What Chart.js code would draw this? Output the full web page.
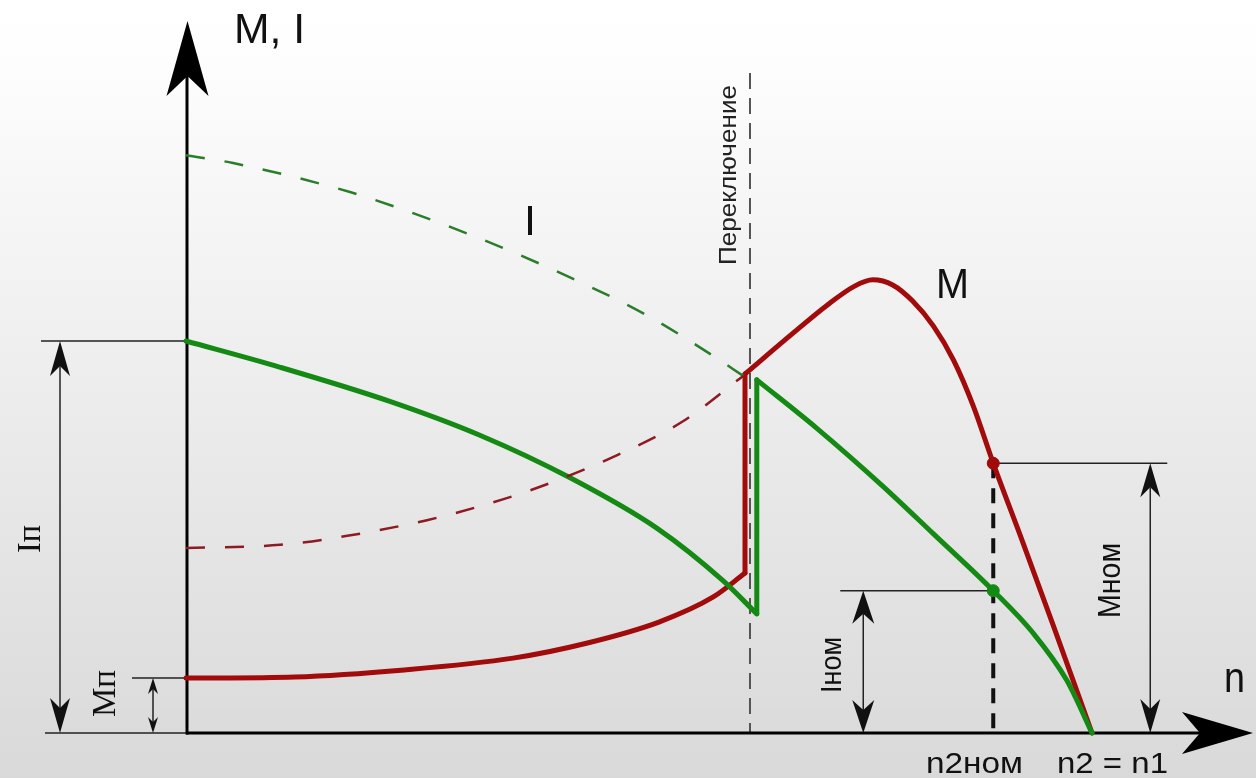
<!DOCTYPE html>
<html lang="ru">
<head>
<meta charset="utf-8">
<title>Пуск двухскоростного двигателя</title>
<script src="https://cdn.jsdelivr.net/npm/chart.js@4.4.1/dist/chart.umd.min.js"></script>
<style>
  html, body { margin: 0; padding: 0; }
  #wrap { width: 1256px; height: 778px; position: relative; }
</style>
</head>
<body>
<div id="wrap"><canvas id="chart"></canvas></div>
<script>
// n in % of n1, M and I in % of the starting current Iп
const iStartN = [0, 10.4, 22.5, 32.5, 42.4, 52.0, 59.3, 63.0];
const iStartVal = [100, 93.3, 84.6, 75.9, 65.1, 52.2, 38.8, 30.4];
const iRunN = [63.0, 69.6, 76.9, 82.5, 89.1, 93.5, 97.2, 100];
const iRunVal = [90.1, 77.8, 63.0, 50.8, 36.3, 25.5, 13.5, 0];

const mStartN = [0, 12.0, 24.1, 36.1, 44.2, 52.2, 58.2, 61.7];
const mStartVal = [14.0, 14.3, 16.1, 19.1, 22.9, 28.3, 34.7, 40.8];
const mRunN = [61.7, 67.0, 70.8, 73.8, 75.8, 78.0, 80.2, 82.5, 84.7, 86.9, 89.1, 92.1, 95.7, 100];
const mRunVal = [91.6, 102.0, 109.2, 114.0, 115.6, 114.3, 110.2, 103.8, 95.2, 83.4, 68.8, 50.3, 27.6, 0];

// second-speed characteristics below the switching point (dashed)
const iExtN = [0, 5.2, 18.1, 26.5, 34.5, 42.5, 50.6, 58.2, 61.5];
const iExtVal = [147.4, 145.4, 138.0, 131.4, 124.2, 116.1, 106.9, 96.2, 91.1];
const mExtN = [0, 10.4, 17.8, 26.6, 32.5, 38.7, 47.6, 54.9, 61.5];
const mExtVal = [47.2, 48.0, 50.3, 54.3, 57.9, 62.5, 70.9, 79.6, 91.1];

const switchN = 62.25;
const nominalN = 89.1;
const nominalM = 68.8;
const nominalI = 36.3;
const startM = 14.0;
const startI = 100;

const GREEN = '#148a14';
const RED = '#a20b0b';

const pts = (ns, vs) => ns.map((n, i) => ({ x: n, y: vs[i] }));
const jump = (a, b) => [a[a.length - 1], b[0]];

const iStart = pts(iStartN, iStartVal);
const iRun = pts(iRunN, iRunVal);
const mStart = pts(mStartN, mStartVal);
const mRun = pts(mRunN, mRunVal);

function solid(data, color) {
  return { data, borderColor: color, borderWidth: 5, cubicInterpolationMode: 'monotone',
           borderCapStyle: 'round', borderJoinStyle: 'round', pointRadius: 0 };
}
function dashed(data, color) {
  return { data, borderColor: color, borderWidth: 2.5, borderDash: [19, 20],
           cubicInterpolationMode: 'monotone', pointRadius: 0 };
}

function line(ctx, x1, y1, x2, y2) {
  ctx.beginPath();
  ctx.moveTo(x1, y1);
  ctx.lineTo(x2, y2);
  ctx.stroke();
}

function arrowHead(ctx, x, y, angle, len, half, notch) {
  ctx.save();
  ctx.translate(x, y);
  ctx.rotate(angle);
  ctx.beginPath();
  ctx.moveTo(0, 0);
  ctx.lineTo(-len, -half);
  ctx.lineTo(-notch, 0);
  ctx.lineTo(-len, half);
  ctx.closePath();
  ctx.fill();
  ctx.restore();
}

// vertical dimension arrow with heads on both ends
function dimArrow(ctx, x, yTop, yBot, len, half, notch) {
  line(ctx, x, yTop + notch, x, yBot - notch);
  arrowHead(ctx, x, yTop, -Math.PI / 2, len, half, notch);
  arrowHead(ctx, x, yBot, Math.PI / 2, len, half, notch);
}

function label(ctx, text, x, y, font, width, rot) {
  ctx.save();
  ctx.font = font;
  ctx.translate(x, y);
  if (rot) ctx.rotate(rot);
  const w = ctx.measureText(text).width;
  if (width) ctx.scale(width / w, 1);
  ctx.fillText(text, 0, 0);
  ctx.restore();
}

const background = {
  id: 'background',
  beforeDraw(chart) {
    const { ctx, width, height } = chart;
    const g = ctx.createLinearGradient(0, 0, 0, height);
    g.addColorStop(0, '#ffffff');
    g.addColorStop(0.08, '#fdfdfd');
    g.addColorStop(1, '#d9d9d9');
    ctx.save();
    ctx.fillStyle = g;
    ctx.fillRect(0, 0, width, height);
    ctx.restore();
  }
};

const scheme = {
  id: 'scheme',
  beforeDatasetsDraw(chart) {
    const ctx = chart.ctx;
    const X = v => chart.scales.x.getPixelForValue(v);
    const Y = v => chart.scales.y.getPixelForValue(v);
    const x0 = X(0), y0 = Y(0);
    const xn = X(nominalN);
    ctx.save();

    // switching moment
    ctx.strokeStyle = '#555';
    ctx.lineWidth = 2;
    ctx.setLineDash([16, 9]);
    line(ctx, X(switchN), Y(168.4), X(switchN), y0);

    // n2ном
    ctx.strokeStyle = '#111';
    ctx.lineWidth = 4;
    ctx.setLineDash([15, 10]);
    line(ctx, xn, Y(nominalM), xn, y0);
    ctx.setLineDash([]);

    // extension lines
    ctx.strokeStyle = '#222';
    ctx.fillStyle = '#111';
    ctx.lineWidth = 1.5;
    line(ctx, x0 - 145, Y(startI), x0, Y(startI));
    line(ctx, x0 - 141, y0, x0, y0);
    line(ctx, x0 - 54, Y(startM), x0, Y(startM));
    line(ctx, xn, Y(nominalM), xn + 174, Y(nominalM));
    line(ctx, xn - 153, Y(nominalI), xn, Y(nominalI));

    dimArrow(ctx, x0 - 126, Y(startI), y0, 35, 10, 25);
    dimArrow(ctx, x0 - 33, Y(startM), y0, 16, 5, 11);
    dimArrow(ctx, xn - 130, Y(nominalI), y0, 33, 11, 23);
    dimArrow(ctx, xn + 157, Y(nominalM), y0, 34, 10, 24);

    // axes
    ctx.strokeStyle = '#000';
    ctx.fillStyle = '#000';
    ctx.lineWidth = 3;
    line(ctx, x0 + 1, y0 + 1.5, x0 + 1, 60);
    line(ctx, x0, y0, 1210, y0);
    arrowHead(ctx, x0 + 1.5, 21, -Math.PI / 2, 75, 21, 55);
    arrowHead(ctx, 1253, y0, 0, 71, 21, 53);
    ctx.restore();
  },
  afterDraw(chart) {
    const ctx = chart.ctx;
    const sans = '"Liberation Sans", Arial, sans-serif';
    const serif = '"Liberation Serif", "Times New Roman", serif';
    const up = -Math.PI / 2;
    ctx.save();
    ctx.fillStyle = '#111';
    ctx.textBaseline = 'alphabetic';
    label(ctx, 'M, I', 234, 43, '43px ' + sans, 71);
    label(ctx, 'I', 524, 235, '43px ' + sans);
    label(ctx, 'M', 936, 298, '43px ' + sans, 33);
    label(ctx, 'n', 1224, 692, '42px ' + sans, 21);
    label(ctx, 'n2ном', 926, 773, '30px ' + sans, 97);
    label(ctx, 'n2 = n1', 1057, 773, '30px ' + sans, 111);
    ctx.fillStyle = '#222';
    label(ctx, 'Переключение', 736, 265, '24px ' + sans, 180, up);
    ctx.fillStyle = '#111';
    label(ctx, 'Iп', 40, 553, '34px ' + serif, 28, up);
    label(ctx, 'Mп', 115, 717, '34px ' + serif, 47, up);
    label(ctx, 'Iном', 841, 693, '30px ' + sans, 56, up);
    label(ctx, 'Mном', 1120, 618, '31px ' + sans, 75, up);
    ctx.restore();
  }
};

new Chart(document.getElementById('chart'), {
  type: 'line',
  data: {
    datasets: [
      dashed(pts(mExtN, mExtVal), '#8e1a22'),
      dashed(pts(iExtN, iExtVal), '#2a7d2a'),
      solid(iStart, GREEN),
      solid(jump(iStart, iRun), GREEN),
      solid(iRun, GREEN),
      solid(mStart, RED),
      solid(jump(mStart, mRun), RED),
      solid(mRun, RED),
      {
        type: 'scatter',
        data: [{ x: nominalN, y: nominalM }, { x: nominalN, y: nominalI }],
        pointRadius: 6,
        pointBackgroundColor: [RED, GREEN],
        pointBorderColor: [RED, GREEN],
        showLine: false
      }
    ]
  },
  options: {
    responsive: true,
    maintainAspectRatio: false,
    animation: false,
    events: [],
    layout: { autoPadding: false, padding: 0 },
    plugins: { legend: { display: false }, tooltip: { enabled: false } },
    scales: {
      x: { type: 'linear', display: false, min: -20.53, max: 118.1 },
      y: { type: 'linear', display: false, min: -11.48, max: 187.0 }
    }
  },
  plugins: [background, scheme]
});
</script>
</body>
</html>
